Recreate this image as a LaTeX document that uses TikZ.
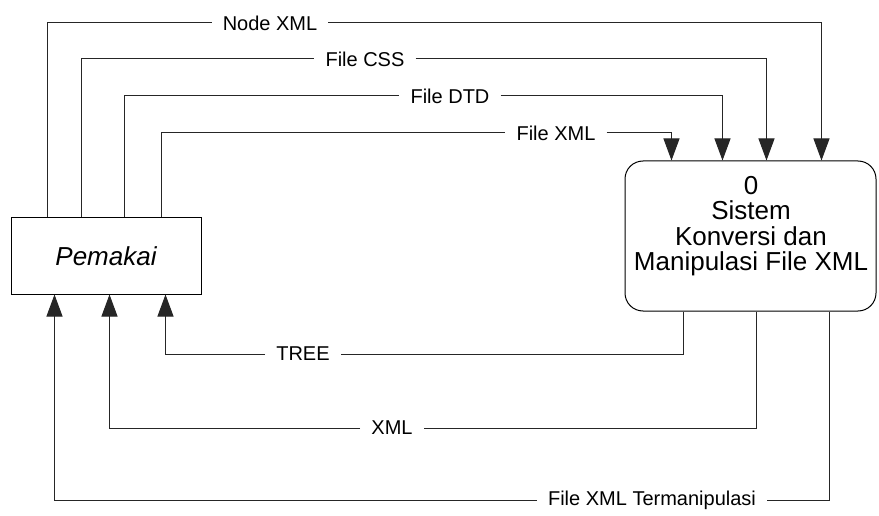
\documentclass[tikz,border=0pt]{standalone}
\usepackage{fontspec}
\setmainfont{Liberation Sans}
\usetikzlibrary{arrows.meta}
\begin{document}
\begin{tikzpicture}[x=1pt,y=-1pt,
  flow/.style={line width=1pt, draw=black!85},
  arr/.style={-{Triangle[width=16pt,length=22pt]}},
  lbl/.style={inner xsep=11pt, inner ysep=2pt, font=\fontsize{20}{22}\selectfont}]
\useasboundingbox (0,0) rectangle (879,516);
\node[draw, line width=1pt, minimum width=190pt, minimum height=76pt, inner sep=0pt,
      font=\fontsize{26}{28}\selectfont\itshape] (user) at (106,256) {Pemakai};
\node[draw, line width=1pt, rounded corners=18pt, minimum width=251pt, minimum height=150pt,
      inner sep=0pt] (sys) at (750.5,236) {};
\node[align=center, inner sep=0pt, font=\fontsize{26}{25.5}\selectfont] (systext) at (751,226)
      {0\\Sistem\\Konversi dan\\Manipulasi File XML};
% labels
\node[lbl] (lnode) at (270,23) {Node XML};
\node[lbl] (lcss) at (365,59) {File CSS};
\node[lbl] (ldtd) at (450,96) {File DTD};
\node[lbl] (lxml) at (556,133) {File XML};
\node[lbl] (ltree) at (303,354) {TREE};
\node[lbl] (lxml2) at (392,428) {XML};
\node[lbl] (lterm) at (652,500) {File XML Termanipulasi};
% inputs to system
\draw[flow] ([xshift=37pt]user.north west) |- (lnode.west);
\draw[flow,arr] (lnode.east) -| ([xshift=197pt]sys.north west);
\draw[flow] ([xshift=71pt]user.north west) |- (lcss.west);
\draw[flow,arr] (lcss.east) -| ([xshift=142pt]sys.north west);
\draw[flow] ([xshift=114pt]user.north west) |- (ldtd.west);
\draw[flow,arr] (ldtd.east) -| ([xshift=98pt]sys.north west);
\draw[flow] ([xshift=151pt]user.north west) |- (lxml.west);
\draw[flow,arr] (lxml.east) -| ([xshift=47pt]sys.north west);
% outputs to user
\draw[flow] ([xshift=59pt]sys.south west) |- (ltree.east);
\draw[flow,arr] (ltree.west) -| ([xshift=155pt]user.south west);
\draw[flow] ([xshift=132pt]sys.south west) |- (lxml2.east);
\draw[flow,arr] (lxml2.west) -| ([xshift=99pt]user.south west);
\draw[flow] ([xshift=205pt]sys.south west) |- (lterm.east);
\draw[flow,arr] (lterm.west) -| ([xshift=44pt]user.south west);
\end{tikzpicture}
\end{document}
